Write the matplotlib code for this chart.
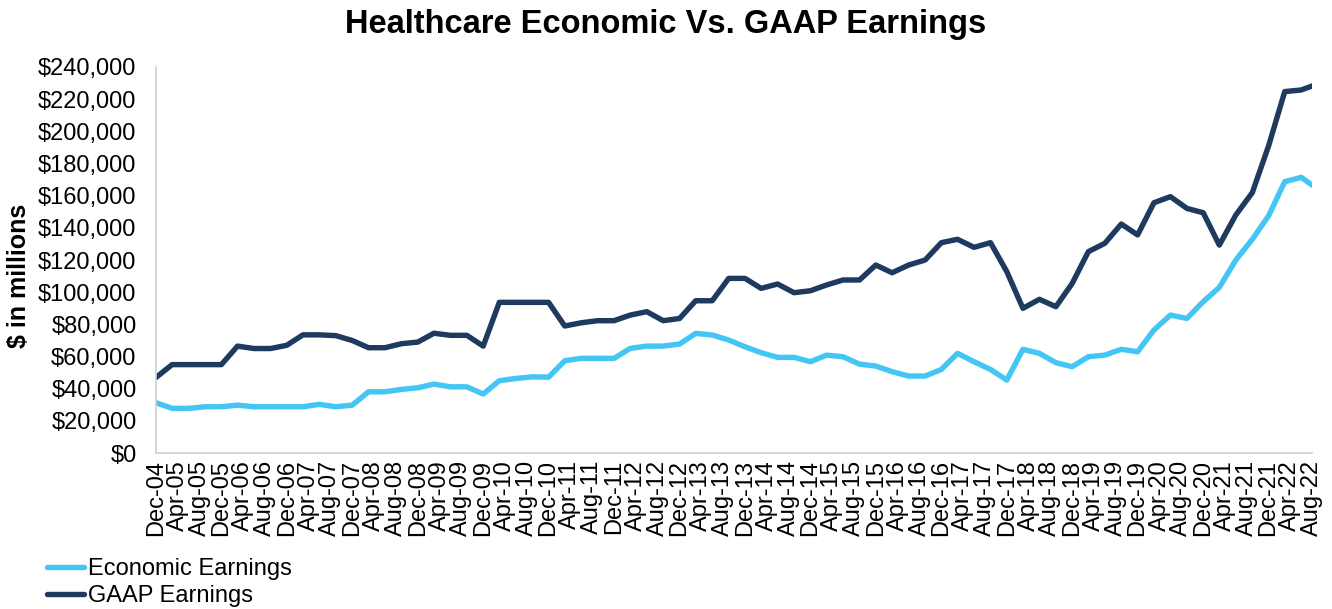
import matplotlib
matplotlib.use("Agg")
import matplotlib.pyplot as plt
import matplotlib.dates as mdates
from matplotlib.ticker import FuncFormatter
import pandas as pd

plt.rcParams['font.family'] = ['Liberation Sans', 'DejaVu Sans']

title = "Healthcare Economic Vs. GAAP Earnings"
ylabel = "$ in millions"
series_names = ["Economic Earnings", "GAAP Earnings"]

# Quarterly observation dates (Dec-04 ... Jun-22) plus the latest Aug-22 point
dates = list(pd.date_range("2004-12-01", "2022-06-01", freq="3MS")) + [pd.Timestamp("2022-08-01")]

economic = [31300, 27800, 27800, 28800, 28800, 29800, 28800, 28800, 28800, 28800,
            30300, 28800, 29800, 38100, 38100, 39600, 40600, 42900, 41200, 41200,
            36700, 45000, 46400, 47400, 47200, 57400, 58900, 58900, 58900, 65100,
            66500, 66500, 67800, 74400, 73400, 70300, 66100, 62400, 59500, 59500,
            56800, 60900, 59900, 55300, 54100, 50600, 47900, 47900, 52000, 62000,
            56800, 52000, 45400, 64500, 62000, 56200, 53700, 59900, 60900, 64500,
            63000, 76500, 85800, 83700, 94100, 103000, 120000, 132900, 147500, 168700,
            171400, 166600]

gaap = [47000, 55000, 55000, 55000, 55000, 66500, 65000, 65000, 67000, 73500,
        73500, 73000, 70000, 65500, 65500, 68000, 69000, 74500, 73200, 73200,
        66500, 93700, 93700, 93700, 93700, 79000, 81000, 82300, 82300, 85800,
        87900, 82300, 83700, 94700, 94700, 108600, 108600, 102400, 105100, 99700,
        100900, 104500, 107600, 107600, 116900, 112100, 116900, 120000, 130800, 132900,
        127900, 130800, 112800, 90000, 95600, 91000, 105500, 125200, 130400, 142400,
        135600, 155600, 159400, 152100, 149400, 129300, 148000, 161900, 191000, 224700,
        225700, 228200]

tick_dates = pd.date_range("2004-12-01", "2022-08-01", freq="4MS")
yticks = list(range(0, 240001, 20000))

c_econ = "#43C6F3"
c_gaap = "#1E3A5F"

fig = plt.figure(figsize=(13.32, 6.09), dpi=100)
ax = fig.add_axes([0.1171, 0.256, 0.868, 0.634])

ax.plot(dates, economic, color=c_econ, lw=3.9, solid_capstyle='round', solid_joinstyle='round', label=series_names[0])
ax.plot(dates, gaap, color=c_gaap, lw=3.9, solid_capstyle='round', solid_joinstyle='round', label=series_names[1])

ax.set_xlim(dates[0], dates[-1])
ax.set_ylim(0, 240000)
ax.set_yticks(yticks)
ax.yaxis.set_major_formatter(FuncFormatter(lambda v, p: f"${v:,.0f}"))
ax.set_xticks(tick_dates)
ax.xaxis.set_major_formatter(mdates.DateFormatter("%b-%y"))
ax.tick_params(axis='x', length=0, pad=5, labelsize=17, rotation=90)
ax.tick_params(axis='y', length=0, pad=14, labelsize=17)

for s in ["top", "right"]:
    ax.spines[s].set_visible(False)
for s in ["left", "bottom"]:
    ax.spines[s].set_color("#D0D0D0")
    ax.spines[s].set_linewidth(1.2)

ax.set_ylabel(ylabel, fontsize=18, fontweight='bold')
ax.yaxis.set_label_coords(-0.108, 0.46)

fig.suptitle(title, fontsize=23.5, fontweight='bold', x=0.5, y=0.985)

fig.legend(loc='upper left', bbox_to_anchor=(0.035, 0.083), frameon=False,
           fontsize=17, handlelength=1.6, handletextpad=0.15, labelspacing=0.2,
           borderaxespad=0, borderpad=0)

fig.savefig("out.png", dpi=100)
